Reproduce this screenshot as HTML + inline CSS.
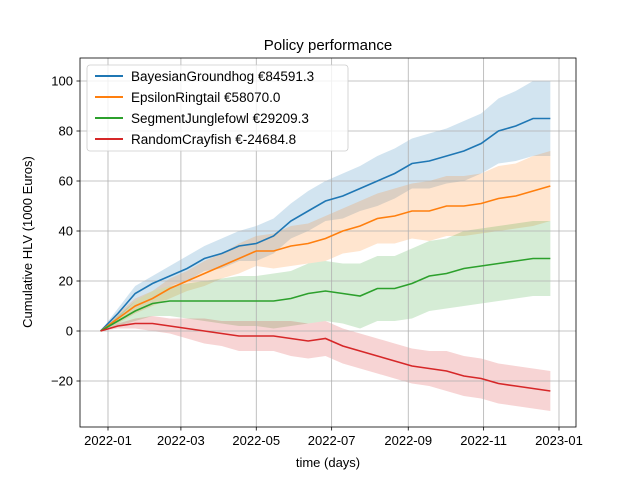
<!DOCTYPE html>
<html><head><meta charset="utf-8"><style>
body{margin:0;background:#fff}
svg{display:block;font-family:"Liberation Sans","DejaVu Sans",sans-serif}
</style></head><body>
<svg id="chart" width="640" height="480">
<rect width="640" height="480" fill="#fff"/>
<g id="bands"></g><g id="grid"></g><g id="lines"></g><g id="axes"></g>
<text x="328" y="50" font-size="15" text-anchor="middle">Policy performance</text>
<text x="328" y="467" font-size="13" text-anchor="middle">time (days)</text>
<text transform="translate(32,242) rotate(-90)" font-size="13" text-anchor="middle">Cumulative HLV (1000 Euros)</text>
<g id="legend"></g>
</svg>
<script>
const days=[-6,8,22,36,50,64,78,92,106,120,134,148,162,176,190,204,218,232,246,260,274,288,302,316,330,344,358];
const seriesNames=["BayesianGroundhog €84591.3","EpsilonRingtail €58070.0","SegmentJunglefowl €29209.3","RandomCrayfish €-24684.8"];
const blueVals=[0,7,15,19,22,25,29,31,34,35,38,44,48,52,54,57,60,63,67,68,70,72,75,80,82,85,85];
const blueBand=[0,2,3,3,4,5,5,6,6,7,7,7,8,8,9,9,10,10,10,11,11,12,12,13,14,15,15];
const orangeVals=[0,5,10,13,17,20,23,26,29,32,32,34,35,37,40,42,45,46,48,48,50,50,51,53,54,56,58];
const orangeBand=[0,2,3,3,4,4,5,5,6,6,7,8,8,9,9,10,10,11,11,12,12,12,12,13,13,14,14];
const greenVals=[0,4,8,11,12,12,12,12,12,12,12,13,15,16,15,14,17,17,19,22,23,25,26,27,28,29,29];
const greenBand=[0,2,4,5,6,7,8,9,10,10,11,11,12,12,12,13,13,13,14,14,14,15,15,15,15,15,15];
const redVals=[0,2,3,3,2,1,0,-1,-2,-2,-2,-3,-4,-3,-6,-8,-10,-12,-14,-15,-16,-18,-19,-21,-22,-23,-24];
const redBand=[0,1,2,3,3,4,5,5,6,6,6,7,7,7,7,7,7,7,7,7,8,8,8,8,8,8,8];
const yTicks=[-20,0,20,40,60,80,100];
const xTickDays=[0,59,120,181,243,304,365];
const xTickLabels=["2022-01","2022-03","2022-05","2022-07","2022-09","2022-11","2023-01"];
const colors=["#1f77b4","#ff7f0e","#2ca02c","#d62728"];
const vals=[blueVals,orangeVals,greenVals,redVals], bands=[blueBand,orangeBand,greenBand,redBand];
const L=80,R=576,T=58,B=427;
const X=d=>108+d*451/365, Y=v=>331-v*2.5;
const NS="http://www.w3.org/2000/svg";
function mk(tag,attrs,parent){const e=document.createElementNS(NS,tag);for(const k in attrs)e.setAttribute(k,attrs[k]);parent.appendChild(e);return e;}
const g=document.getElementById('grid'),ax=document.getElementById('axes'),bg=document.getElementById('bands'),lg=document.getElementById('lines'),leg=document.getElementById('legend');
yTicks.forEach(v=>{const y=Y(v);
 const l=mk('line',{x1:L,x2:R,y1:y,y2:y,stroke:'#b0b0b0','stroke-width':0.8},g);
 
 mk('line',{x1:L-3.5,x2:L,y1:y,y2:y,stroke:'#000','stroke-width':0.8},ax);
 const t=mk('text',{x:L-7,y:y+4.5,'font-size':13,'text-anchor':'end'},ax);t.textContent=(v<0?'\u2212'+(-v):v);
 });
xTickDays.forEach((d,i)=>{const x=X(d);
 const l=mk('line',{x1:x,x2:x,y1:T,y2:B,stroke:'#b0b0b0','stroke-width':0.8},g);
 
 mk('line',{x1:x,x2:x,y1:B,y2:B+3.5,stroke:'#000','stroke-width':0.8},ax);
 const t=mk('text',{x:x,y:B+18,'font-size':13,'text-anchor':'middle'},ax);t.textContent=xTickLabels[i];
 });
const fr=mk('rect',{x:L,y:T,width:R-L,height:B-T,fill:'none',stroke:'#000','stroke-width':0.8},ax);

const keys=['bayesian-groundhog','epsilon-ringtail','segment-junglefowl','random-crayfish'];
vals.forEach((s,k)=>{
 let up=s.map((v,i)=>X(days[i])+','+Y(v+bands[k][i])),lo=s.map((v,i)=>X(days[i])+','+Y(v-bands[k][i])).reverse();
 const p=mk('polygon',{points:up.concat(lo).join(' '),fill:colors[k],'fill-opacity':0.2},bg);
 
 const ln=mk('polyline',{points:s.map((v,i)=>X(days[i])+','+Y(v)).join(' '),fill:'none',stroke:colors[k],'stroke-width':1.6},lg);
 
});
const box=mk('rect',{x:87,y:65,width:261,height:86,rx:3,fill:'#fff','fill-opacity':0.8,stroke:'#ccc','stroke-width':0.8},leg);

seriesNames.forEach((n,k)=>{const y=76+k*21;
 const l=mk('line',{x1:95,x2:123,y1:y,y2:y,stroke:colors[k],'stroke-width':2},leg);
 
 const t=mk('text',{x:131,y:y+5,'font-size':13.5},leg);t.textContent=n;
 });
</script>
</body></html>
